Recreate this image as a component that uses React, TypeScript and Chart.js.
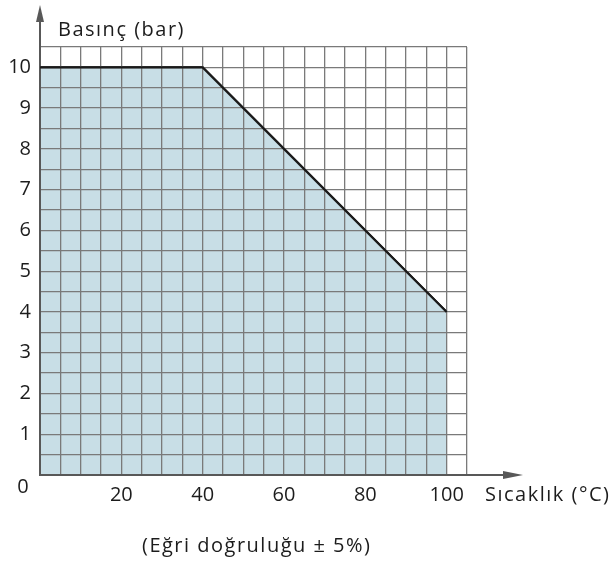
import React, { useEffect, useRef } from "react";
import { Chart, registerables } from "chart.js";

Chart.register(...registerables);

const temperatures = [0, 40, 100];
const pressures = [10, 10, 4];
const xTickLabels = [20, 40, 60, 80, 100];
const yTickLabels = [1, 2, 3, 4, 5, 6, 7, 8, 9, 10];
const yAxisTitle = "Basınç (bar)";
const xAxisTitle = "Sıcaklık (°C)";
const note = "(Eğri doğruluğu ± 5%)";

const FONT = "20px 'Open Sans', sans-serif";
const TEXT = "#1c1c1c";
const AXIS = "#585858";

const decorPlugin = {
  id: "decor",
  afterDraw(chart: any) {
    const ctx = chart.ctx as CanvasRenderingContext2D;
    const xs = chart.scales.x;
    const ys = chart.scales.y;
    const area = chart.chartArea;
    // redraw line above grid
    const meta = chart.getDatasetMeta(1);
    if (meta && meta.dataset) {
      ctx.save();
      meta.dataset.draw(ctx, area);
      ctx.restore();
    }
    ctx.save();
    const x0 = xs.getPixelForValue(0);
    const y0 = ys.getPixelForValue(0);
    ctx.strokeStyle = AXIS;
    ctx.fillStyle = AXIS;
    ctx.lineWidth = 2;
    ctx.beginPath();
    ctx.moveTo(x0, area.top);
    ctx.lineTo(x0, 18);
    ctx.moveTo(area.right, y0);
    ctx.lineTo(508, y0);
    ctx.stroke();
    ctx.beginPath();
    ctx.moveTo(x0, 5);
    ctx.lineTo(x0 - 4, 22);
    ctx.lineTo(x0 + 4, 22);
    ctx.closePath();
    ctx.fill();
    ctx.beginPath();
    ctx.moveTo(523, y0);
    ctx.lineTo(503, y0 - 4);
    ctx.lineTo(503, y0 + 4);
    ctx.closePath();
    ctx.fill();
    ctx.fillStyle = TEXT;
    ctx.font = FONT;
    ctx.textBaseline = "middle";
    (ctx as any).letterSpacing = "0px";
    ctx.textAlign = "right";
    yTickLabels.forEach((v) => {
      ctx.fillText(String(v), 31, ys.getPixelForValue(v));
    });
    ctx.textAlign = "center";
    ctx.fillText("0", 23, 487);
    xTickLabels.forEach((v) => {
      ctx.fillText(String(v), xs.getPixelForValue(v), 495);
    });
    (ctx as any).letterSpacing = "1.5px";
    ctx.textAlign = "left";
    ctx.fillText(yAxisTitle, 58, 30);
    ctx.fillText(xAxisTitle, 485, 495);
    ctx.fillText(note, 142, 546);
    ctx.restore();
  },
};

export default function App() {
  const ref = useRef<HTMLCanvasElement>(null);
  useEffect(() => {
    document.body.style.margin = "0";
    const points = temperatures.map((t, i) => ({ x: t, y: pressures[i] }));
    const chart = new Chart(ref.current!, {
      type: "line",
      data: {
        datasets: [
          {
            data: points,
            borderWidth: 0,
            borderColor: "transparent",
            backgroundColor: "#c8dee6",
            fill: "origin",
            pointRadius: 0,
          },
          {
            data: points,
            borderWidth: 2.2,
            borderColor: "#1a1a1a",
            fill: false,
            pointRadius: 0,
          },
        ],
      },
      options: {
        animation: false,
        responsive: false,
        devicePixelRatio: 1,
        layout: { padding: { left: 40, top: 47, right: 146, bottom: 88 } },
        plugins: { legend: { display: false }, tooltip: { enabled: false } },
        scales: {
          x: {
            type: "linear",
            min: 0,
            max: 105,
            ticks: { display: false, stepSize: 5 },
            grid: { color: "#7a7a7a", lineWidth: 1.3, drawTicks: false, z: 1 },
            border: { display: true, color: AXIS, width: 2, z: 2 },
            afterFit: (s: any) => {
              s.height = 0;
            },
          },
          y: {
            type: "linear",
            min: 0,
            max: 10.5,
            ticks: { display: false, stepSize: 0.5 },
            grid: { color: "#7a7a7a", lineWidth: 1.3, drawTicks: false, z: 1 },
            border: { display: true, color: AXIS, width: 2, z: 2 },
            afterFit: (s: any) => {
              s.width = 0;
            },
          },
        },
      },
      plugins: [decorPlugin],
    });
    return () => chart.destroy();
  }, []);
  return (
    <div style={{ position: "absolute", left: 0, top: 0, width: 613, height: 563, background: "#fff" }}>
      <canvas ref={ref} width={613} height={563} style={{ width: 613, height: 563 }} />
    </div>
  );
}
